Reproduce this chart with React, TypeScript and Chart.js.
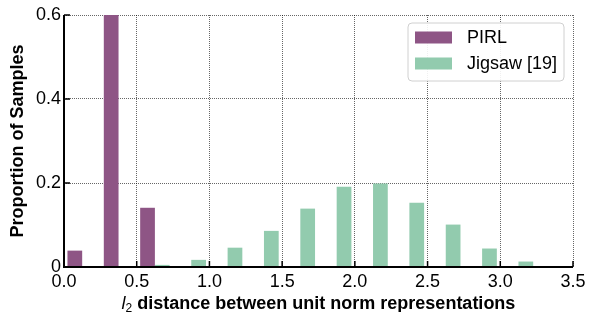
import React, { useEffect, useRef } from "react";
import { Chart, registerables } from "chart.js";

Chart.register(...registerables);

const pirlX = [0.125, 0.375, 0.625];
const pirlValues = [0.039, 0.6, 0.141];
const jigsawX = [0.625, 0.875, 1.125, 1.375, 1.625, 1.875, 2.125, 2.375, 2.625, 2.875, 3.125];
const jigsawValues = [0.005, 0.017, 0.046, 0.086, 0.139, 0.191, 0.199, 0.153, 0.101, 0.044, 0.013];
const xTicks = [0, 0.5, 1.0, 1.5, 2.0, 2.5, 3.0, 3.5];
const yTicks = [0, 0.2, 0.4, 0.6];
const seriesNames = ["PIRL", "Jigsaw [19]"];
const xTitleVar = "l";
const xTitleSub = "2";
const xTitleRest = " distance between unit norm representations";
const yTitle = "Proportion of Samples";

const PURPLE = "#8e5585";
const GREEN = "#92cbae";
const FONT = "'Liberation Sans', Arial, Helvetica, sans-serif";

const decorPlugin = {
  id: "decor",
  afterDraw(chart: any) {
    const { ctx, chartArea: ca } = chart;
    const xs = chart.scales.x;
    const ys = chart.scales.y;
    ctx.save();
    // axes
    ctx.strokeStyle = "#000";
    ctx.lineWidth = 2;
    ctx.beginPath();
    ctx.moveTo(ca.left, ca.top);
    ctx.lineTo(ca.left, ca.bottom);
    ctx.lineTo(ca.right, ca.bottom);
    ctx.stroke();
    // inward ticks
    ctx.lineWidth = 1.5;
    ctx.beginPath();
    xTicks.forEach((v) => {
      const px = xs.getPixelForValue(v);
      ctx.moveTo(px, ca.bottom);
      ctx.lineTo(px, ca.bottom - 6);
    });
    yTicks.forEach((v) => {
      const py = ys.getPixelForValue(v);
      ctx.moveTo(ca.left, py);
      ctx.lineTo(ca.left + 6, py);
    });
    ctx.stroke();

    // y title
    ctx.fillStyle = "#000";
    ctx.save();
    ctx.translate(18.5, (ca.top + ca.bottom) / 2);
    ctx.rotate(-Math.PI / 2);
    ctx.font = `bold 18px ${FONT}`;
    ctx.textAlign = "center";
    ctx.textBaseline = "middle";
    ctx.fillText(yTitle, 0, 0);
    ctx.restore();

    // x title
    const fVar = `italic 18px ${FONT}`;
    const fSub = `12px ${FONT}`;
    const fRest = `bold 18px ${FONT}`;
    ctx.font = fVar;
    const w1 = ctx.measureText(xTitleVar).width;
    ctx.font = fSub;
    const w2 = ctx.measureText(xTitleSub).width;
    ctx.font = fRest;
    const w3 = ctx.measureText(xTitleRest).width;
    const total = w1 + w2 + w3;
    let x0 = (ca.left + ca.right) / 2 - total / 2;
    const by = 309;
    ctx.textAlign = "left";
    ctx.textBaseline = "alphabetic";
    ctx.font = fVar;
    ctx.fillText(xTitleVar, x0, by);
    x0 += w1;
    ctx.font = fSub;
    ctx.fillText(xTitleSub, x0, by + 3);
    x0 += w2;
    ctx.font = fRest;
    ctx.fillText(xTitleRest, x0, by);

    // legend
    const lx = 408, ly = 23, lw = 156, lh = 58, r = 4;
    ctx.beginPath();
    ctx.moveTo(lx + r, ly);
    ctx.lineTo(lx + lw - r, ly);
    ctx.arcTo(lx + lw, ly, lx + lw, ly + r, r);
    ctx.lineTo(lx + lw, ly + lh - r);
    ctx.arcTo(lx + lw, ly + lh, lx + lw - r, ly + lh, r);
    ctx.lineTo(lx + r, ly + lh);
    ctx.arcTo(lx, ly + lh, lx, ly + lh - r, r);
    ctx.lineTo(lx, ly + r);
    ctx.arcTo(lx, ly, lx + r, ly, r);
    ctx.closePath();
    ctx.fillStyle = "rgba(255,255,255,0.9)";
    ctx.fill();
    ctx.strokeStyle = "#d0d0d0";
    ctx.lineWidth = 1;
    ctx.stroke();
    const colors = [PURPLE, GREEN];
    const rows = [37.5, 63.5];
    ctx.font = `18px ${FONT}`;
    ctx.textBaseline = "middle";
    seriesNames.forEach((name, i) => {
      ctx.fillStyle = colors[i];
      ctx.fillRect(415, rows[i] - 6, 37, 12);
      ctx.fillStyle = "#000";
      ctx.fillText(name, 467, rows[i] + 1);
    });
    ctx.restore();
  },
};

export default function App() {
  const ref = useRef<HTMLCanvasElement | null>(null);
  useEffect(() => {
    document.body.style.margin = "0";
    const canvas = ref.current!;
    Chart.defaults.font.family = FONT;
    const chart = new Chart(canvas, {
      type: "bar",
      data: {
        datasets: [
          {
            label: seriesNames[0],
            data: pirlX.map((x, i) => ({ x, y: pirlValues[i] })),
            backgroundColor: PURPLE,
          },
          {
            label: seriesNames[1],
            data: jigsawX.map((x, i) => ({ x, y: jigsawValues[i] })),
            backgroundColor: GREEN,
          },
        ],
      },
      options: {
        responsive: false,
        animation: false,
        devicePixelRatio: 1,
        categoryPercentage: 0.81,
        barPercentage: 1,
        layout: { padding: { top: 15, right: 19, left: 0, bottom: 0 } },
        plugins: { legend: { display: false }, tooltip: { enabled: false } },
        scales: {
          x: {
            type: "linear",
            min: 0,
            max: 3.5,
            offset: false,
            afterFit: (s: any) => {
              s.height = 45;
            },
            afterBuildTicks: (s: any) => {
              s.ticks = xTicks.map((v) => ({ value: v }));
            },
            grid: { offset: false, color: "rgba(0,0,0,0.6)", lineWidth: 1, drawTicks: false },
            border: { display: false, dash: [1, 1] },
            ticks: {
              color: "#000",
              font: { size: 18 },
              padding: 4,
              maxRotation: 0,
              autoSkip: false,
              callback: (v: any) => Number(v).toFixed(1),
            },
          },
          y: {
            min: 0,
            max: 0.6,
            afterFit: (s: any) => {
              s.width = 64;
            },
            afterBuildTicks: (s: any) => {
              s.ticks = yTicks.map((v) => ({ value: v }));
            },
            grid: { color: "rgba(0,0,0,0.6)", lineWidth: 1, drawTicks: false },
            border: { display: false, dash: [1, 1] },
            ticks: {
              color: "#000",
              font: { size: 18 },
              padding: 3,
              callback: (v: any) => (Number(v) === 0 ? "0" : Number(v).toFixed(1)),
            },
          },
        },
      },
      plugins: [decorPlugin],
    });
    return () => chart.destroy();
  }, []);
  return (
    <div style={{ width: 592, height: 312, background: "#fff" }}>
      <canvas ref={ref} width={592} height={312} style={{ display: "block" }} />
    </div>
  );
}
